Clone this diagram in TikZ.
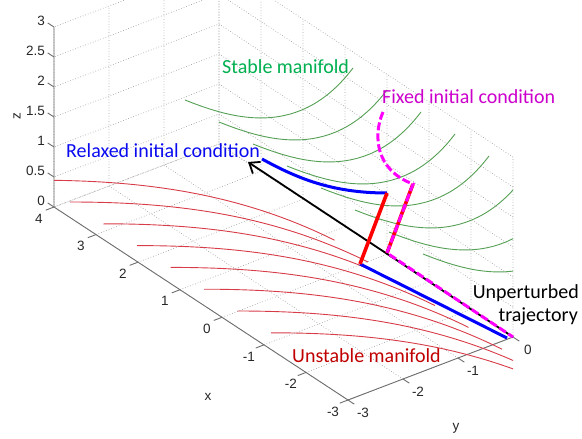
\documentclass[tikz,border=0pt]{standalone}
\usepackage{fontspec}
\setmainfont{Liberation Sans}
\newfontfamily\calib{Carlito}
\usetikzlibrary{arrows.meta}
\definecolor{gridc}{RGB}{165,165,165}
\definecolor{axisc}{RGB}{110,110,110}
\definecolor{labc}{RGB}{38,38,38}
\definecolor{greenc}{RGB}{85,160,85}
\definecolor{redc}{RGB}{215,60,72}
\definecolor{stabc}{RGB}{0,176,80}
\definecolor{unstc}{RGB}{192,0,0}
\definecolor{bluec}{RGB}{0,0,255}
\definecolor{relc}{RGB}{10,10,240}
\definecolor{magc}{RGB}{255,0,255}
\definecolor{fixc}{RGB}{204,0,204}
\tikzset{
  gridl/.style={gridc, line width=0.7pt, dotted},
  axisl/.style={axisc, line width=0.9pt},
  ticklab/.style={inner sep=0pt, text=labc, font=\fontsize{13.5}{15}\selectfont},
  stablel/.style={greenc, line width=0.9pt},
  unstablel/.style={redc, line width=0.9pt},
  trajl/.style={black, line width=1.8pt},
  bluel/.style={bluec, line width=3pt},
  redl/.style={red, line width=3.6pt},
  magl/.style={magc, line width=3pt, dash pattern=on 8pt off 3pt},
  annot/.style={inner sep=0pt, font=\calib\fontsize{20}{24}\selectfont},
}
\begin{document}
\begin{tikzpicture}[x=1pt,y=-1pt]
\useasboundingbox (0,0) rectangle (582,439);
\clip (0,0) rectangle (582,439);
% ---------- 3D box: grid, axes, ticks ----------
\begin{scope}[shift={(387pt,-254.3pt)}, x={(-42pt,27.57pt)}, y={(55pt,21pt)}, z={(0pt,60pt)}]
  \foreach \i in {-3,...,4} { \draw[gridl] (\i,-3,0) -- (\i,0,0) -- (\i,0,3); }
  \foreach \j in {-3,...,0} { \draw[gridl] (-3,\j,0) -- (4,\j,0) -- (4,\j,3); }
  \foreach \k in {0,0.5,1,1.5,2,2.5,3} { \draw[gridl] (-3,0,\k) -- (4,0,\k) -- (4,-3,\k); }
  \draw[axisl] (4,-3,3) -- (4,-3,0) -- (-3,-3,0) -- (-3,0,0);
  \foreach \k [count=\n] in {0,0.5,1,1.5,2,2.5,3} {
    \draw[axisl] (4,-3,\k) -- (4.15,-3,\k);
    \node[ticklab, anchor=east, xshift=-9pt, yshift=6pt] (zl\n) at (4,-3,\k) {\k};
  }
  \foreach \i [count=\n] in {-3,...,4} {
    \draw[axisl] (\i,-3,0) -- (\i,-3.15,0);
    \node[ticklab, xshift=-15pt, yshift=-11.5pt] (xl\n) at (\i,-3,0) {\i};
  }
  \foreach \j [count=\n] in {-3,...,0} {
    \draw[axisl] (-3,\j,0) -- (-3.15,\j,0);
    \node[ticklab, xshift=15pt, yshift=-13pt] (yl\n) at (-3,\j,0) {\j};
  }
\end{scope}
\node[ticklab] (xt) at (208,397) {x};
\node[ticklab] (yt) at (456,428) {y};
\node[ticklab, rotate=90] (zt) at (17,116) {z};
% ---------- stable manifold (green) ----------
\begin{scope}
  \clip (0,0) rectangle (513,439);
  \foreach \k in {0,...,7} {
    \pgfmathsetmacro\sx{185+34*\k}
    \pgfmathsetmacro\sy{100+22*\k}
    \pgfmathsetmacro\ax{\sx+50}
    \pgfmathsetmacro\ay{\sy+20}
    \pgfmathsetmacro\bx{\sx+115}
    \pgfmathsetmacro\by{\sy+38}
    \pgfmathsetmacro\ex{\sx+168}
    \pgfmathsetmacro\ey{\sy-32}
    \draw[stablel] (\sx,\sy) .. controls (\ax,\ay) and (\bx,\by) .. (\ex,\ey);
  }
\end{scope}
% ---------- unstable manifold (red) ----------
\begin{scope}
  \clip (54,0) rectangle (513,439);
  \foreach \k in {-1,...,6} {
    \pgfmathsetmacro\sx{70+33.5*\k}
    \pgfmathsetmacro\sy{202+21.8*\k}
    \draw[unstablel] plot[domain=0:298, samples=40, smooth, variable=\u]
      ({\sx+\u},{\sy+3.583*(\u/100)^2+1.065*(\u/100)^3});
  }
\end{scope}
% ---------- trajectories ----------
\coordinate (tend) at (513,337);
\coordinate (ttip) at (248,162);
\coordinate (b1) at (262,159);
\coordinate (b2) at (387,193);
\coordinate (b3) at (360,264);
\coordinate (b4) at (507,338);
\coordinate (m1) at (383,112);
\coordinate (m2) at (413,184);
\coordinate (m3) at (387,253);
\draw[trajl, -{Straight Barb[length=9pt,width=14pt,line width=1.8pt]}] (tend) -- (ttip);
\draw[bluel] (b1) .. controls (295,177) and (330,193) .. (b2);
\draw[bluel] (b3) -- (b4);
\draw[redl] (b2) -- (b3);
\draw[redl] (m2) -- (m3);
\draw[magl] (m1) .. controls (373,135) and (375,170) .. (m2) -- (m3) -- (tend);
% ---------- annotations ----------
\node[annot, text=stabc, anchor=base west] (stab) at (222,73) {Stable manifold};
\node[annot, text=fixc, anchor=base west] (fix) at (382,103) {Fixed initial condition};
\node[annot, text=relc, anchor=base west] (rel) at (66,157) {Relaxed initial condition};
\node[annot, text=unstc, anchor=base west] (unst) at (292,362) {Unstable manifold};
\node[annot, text=black, anchor=base east] (unp1) at (579,298) {Unperturbed};
\node[annot, text=black, anchor=base east] (unp2) at (578,321) {trajectory};
\end{tikzpicture}
\end{document}
